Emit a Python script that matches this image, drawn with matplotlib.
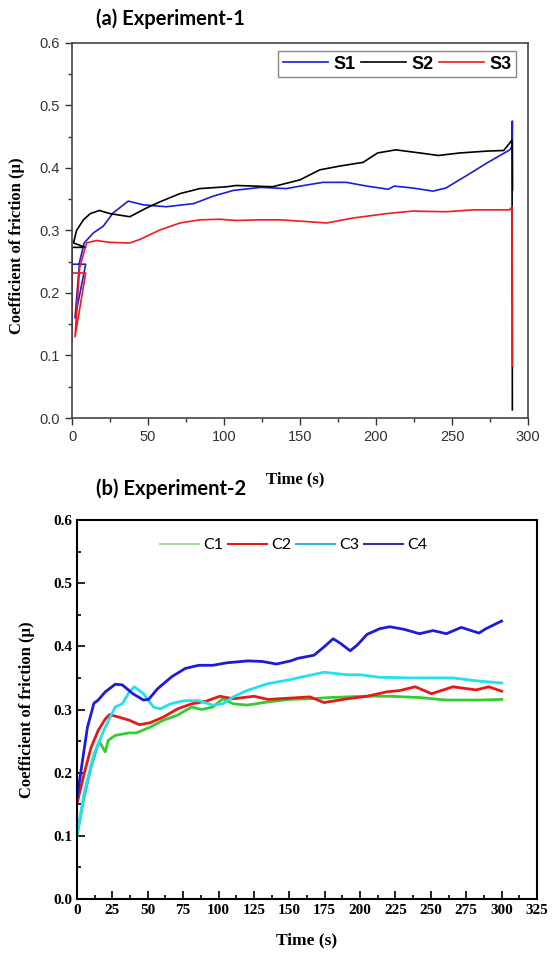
import matplotlib
matplotlib.use("Agg")
import matplotlib.pyplot as plt
from matplotlib.ticker import MultipleLocator

# ---- (a) Experiment-1 data ----
s1_t = [0, 0, 9, 2, 5, 8, 14, 20.6, 27, 37, 47, 62, 80, 93, 106, 124, 141, 150,
        165, 180.5, 194, 208, 212, 224, 237.5, 246, 259, 273, 288, 289.5, 289.7, 289.9]
s1_mu = [0.15, 0.246, 0.246, 0.16, 0.25, 0.28, 0.296, 0.307, 0.328, 0.347, 0.341,
         0.338, 0.343, 0.355, 0.364, 0.369, 0.367, 0.371, 0.377, 0.377, 0.371, 0.366,
         0.371, 0.368, 0.363, 0.368, 0.387, 0.408, 0.429, 0.435, 0.475, 0.365]

s2_t = [0, 0, 9, 1, 3, 7.5, 12, 18, 25, 38, 49, 58, 71, 84, 102, 108, 132, 150,
        163, 176, 191.5, 201, 213, 229, 241, 255, 273, 284, 288, 289.5, 289.7]
s2_mu = [0.152, 0.273, 0.273, 0.28, 0.30, 0.317, 0.327, 0.332, 0.327, 0.322, 0.336,
         0.346, 0.359, 0.367, 0.37, 0.372, 0.37, 0.381, 0.397, 0.403, 0.409, 0.424,
         0.429, 0.424, 0.42, 0.424, 0.427, 0.428, 0.44, 0.445, 0.013]

s3_t = [0, 0, 9, 2, 5, 9.6, 16, 25, 38, 45, 58, 71, 84, 97, 108, 124, 137, 150,
        167.5, 185, 207, 224, 246, 264, 288, 289.5, 289.8]
s3_mu = [0.123, 0.232, 0.232, 0.13, 0.24, 0.28, 0.284, 0.281, 0.28, 0.286, 0.301,
         0.312, 0.317, 0.318, 0.316, 0.317, 0.317, 0.315, 0.312, 0.32, 0.327, 0.331,
         0.33, 0.333, 0.333, 0.338, 0.083]

# ---- (b) Experiment-2 data ----
c1_t = [0, 5, 10, 15, 16, 20, 22, 27, 37, 42, 51.6, 61, 71, 81, 88, 96, 103, 110.5,
        120, 135, 150, 164.6, 179, 202.6, 221, 242, 261, 284, 300]
c1_mu = [0.1, 0.161, 0.209, 0.246, 0.248, 0.233, 0.251, 0.259, 0.263, 0.263, 0.272,
         0.283, 0.291, 0.304, 0.3, 0.304, 0.317, 0.309, 0.307, 0.312, 0.316, 0.317,
         0.319, 0.321, 0.321, 0.319, 0.315, 0.315, 0.316]

c2_t = [0, 5, 10, 15, 20, 23, 29.5, 37, 44, 51.6, 61, 71, 81, 91, 101, 110.5, 125,
        135, 150, 164.6, 174.5, 191, 205, 219, 228, 239, 250.5, 265.7, 282, 291, 300]
c2_mu = [0.151, 0.198, 0.24, 0.267, 0.285, 0.292, 0.288, 0.283, 0.276, 0.279, 0.288,
         0.301, 0.309, 0.313, 0.321, 0.317, 0.321, 0.316, 0.318, 0.32, 0.311, 0.317,
         0.321, 0.328, 0.33, 0.336, 0.325, 0.336, 0.331, 0.336, 0.329]

c3_t = [0, 5, 12, 20, 27, 32, 37, 40.5, 47, 54, 59, 66, 76, 86, 96, 103, 110.5, 120,
        135, 150, 158, 174.5, 191, 200, 214, 237.6, 265.7, 284, 300]
c3_mu = [0.1, 0.167, 0.23, 0.272, 0.304, 0.309, 0.328, 0.336, 0.325, 0.304, 0.301,
         0.309, 0.314, 0.314, 0.307, 0.309, 0.32, 0.33, 0.341, 0.347, 0.351, 0.359,
         0.355, 0.355, 0.351, 0.35, 0.35, 0.345, 0.342]

c4_t = [0, 2.5, 7.4, 12, 15, 20, 27, 32, 39.5, 47, 50.6, 57, 67, 76.5, 86, 96, 106,
        121, 131, 141, 151, 156, 167.5, 174.5, 181, 186, 193, 198, 205, 214, 221, 231,
        242, 251.6, 261, 271.5, 284, 289, 300]
c4_mu = [0.161, 0.198, 0.272, 0.31, 0.315, 0.328, 0.34, 0.339, 0.325, 0.315, 0.316,
         0.333, 0.352, 0.365, 0.37, 0.37, 0.374, 0.377, 0.376, 0.372, 0.377, 0.381,
         0.386, 0.399, 0.412, 0.405, 0.393, 0.402, 0.419, 0.428, 0.431, 0.427, 0.42,
         0.425, 0.42, 0.43, 0.421, 0.428, 0.44]

fig = plt.figure(figsize=(5.53, 9.55), dpi=100)

# ---------------- top panel ----------------
ax1 = fig.add_axes([0.1302, 0.5623, 0.8246, 0.3927])
ax1.plot(s1_t, s1_mu, color="#1c1cdc", lw=1.2, label="S1")
ax1.plot(s2_t, s2_mu, color="black", lw=1.2, label="S2")
ax1.plot(s3_t, s3_mu, color="#ee1c1c", lw=1.2, label="S3")
ax1.set_xlim(0, 300)
ax1.set_ylim(0, 0.6)
ax1.xaxis.set_major_locator(MultipleLocator(50))
ax1.xaxis.set_minor_locator(MultipleLocator(25))
ax1.yaxis.set_major_locator(MultipleLocator(0.1))
ax1.yaxis.set_minor_locator(MultipleLocator(0.05))
ax1.tick_params(which="both", direction="out", colors="#333333",
                labelsize=10.5, width=1.0)
ax1.tick_params(which="major", length=5)
ax1.tick_params(which="minor", length=3)
for lab in ax1.get_xticklabels() + ax1.get_yticklabels():
    lab.set_fontfamily("Liberation Sans")
for sp in ax1.spines.values():
    sp.set_color("#444444")
    sp.set_linewidth(1.2)
ax1.set_xlabel("Time (s)", family="Liberation Serif", weight="bold", fontsize=12)
ax1.xaxis.set_label_coords(0.489, -0.143)
ax1.set_ylabel("Coefficient of friction (\u03bc)", family="Liberation Serif",
               weight="bold", fontsize=12)
ax1.yaxis.set_label_coords(-0.103, 0.46)
leg1 = ax1.legend(loc="upper right", bbox_to_anchor=(0.974, 0.978), ncol=3,
                  fancybox=False, edgecolor="#888888", framealpha=1,
                  prop={"family": "Liberation Sans", "weight": "bold", "size": 13},
                  handlelength=2.5, handletextpad=0.3, columnspacing=0.3,
                  borderpad=0.25, borderaxespad=0)
leg1.get_frame().set_linewidth(1.0)

# ---------------- bottom panel ----------------
ax2 = fig.add_axes([0.1392, 0.0586, 0.8318, 0.3969])
ax2.plot(c1_t, c1_mu, color="#33cc33", lw=2.0, label="C1")
ax2.plot(c2_t, c2_mu, color="#e81818", lw=2.0, label="C2")
ax2.plot(c3_t, c3_mu, color="#22e0ee", lw=2.0, label="C3")
ax2.plot(c4_t, c4_mu, color="#1c1cd8", lw=2.0, label="C4")
ax2.set_xlim(0, 325)
ax2.set_ylim(0, 0.6)
ax2.xaxis.set_major_locator(MultipleLocator(25))
ax2.xaxis.set_minor_locator(MultipleLocator(12.5))
ax2.yaxis.set_major_locator(MultipleLocator(0.1))
ax2.yaxis.set_minor_locator(MultipleLocator(0.05))
ax2.tick_params(which="both", direction="in", labelsize=11, width=1.2)
ax2.tick_params(which="major", length=6)
ax2.tick_params(which="minor", length=3)
for lab in ax2.get_xticklabels() + ax2.get_yticklabels():
    lab.set_fontfamily("Liberation Serif")
    lab.set_fontweight("bold")
for sp in ax2.spines.values():
    sp.set_linewidth(1.5)
ax2.set_xlabel("Time (s)", family="Liberation Serif", weight="bold", fontsize=12.5)
ax2.xaxis.set_label_coords(0.5, -0.088)
ax2.set_ylabel("Coefficient of friction (\u03bc)", family="Liberation Serif",
               weight="bold", fontsize=12)
ax2.yaxis.set_label_coords(-0.091, 0.5)
leg2 = ax2.legend(loc="upper left", bbox_to_anchor=(0.15, 0.99), ncol=4,
                  frameon=False, prop={"family": "Lato", "size": 11.5},
                  handlelength=2.4, handletextpad=0.3, columnspacing=0.3)
for h, c in zip(leg2.get_lines(), ["#a8dca0", "#e81818", "#33b5e5", "#333399"]):
    h.set_color(c)
    h.set_linewidth(1.5)

fig.text(96 / 553, 1 - 19 / 955, "(a) Experiment-1", family="Lato",
         weight="bold", fontsize=14.5, va="center", ha="left")
fig.text(96 / 553, 1 - 489 / 955, "(b) Experiment-2", family="Lato",
         weight="bold", fontsize=14.5, va="center", ha="left")

fig.savefig("out.png", dpi=100)
